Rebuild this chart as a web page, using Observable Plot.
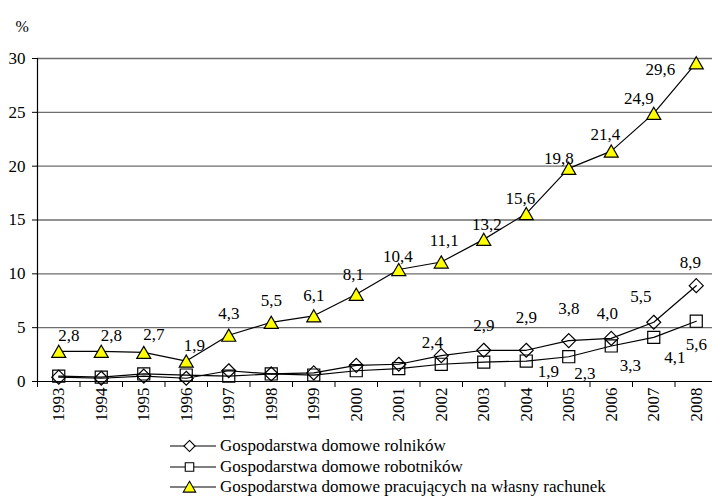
<!DOCTYPE html>
<html><head><meta charset="utf-8">
<script src="https://cdn.jsdelivr.net/npm/d3@7"></script>
<script src="https://cdn.jsdelivr.net/npm/@observablehq/plot@0.6"></script>
<style>
body{margin:0;background:#fff;font-family:"Liberation Serif","Tinos","Times New Roman","DejaVu Serif",serif;}
#wrap{position:relative;width:712px;height:496px;overflow:hidden;}
#legend{position:absolute;left:170px;top:436px;font-size:17px;line-height:20px;color:#000;}
.row{display:flex;align-items:center;height:20.4px;white-space:nowrap;}
.row svg{display:block;margin-right:2px;}
</style></head><body><div id="wrap"><div id="chart"></div><div id="legend"></div></div>
<script>
// ---- data ----
const years = [1993,1994,1995,1996,1997,1998,1999,2000,2001,2002,2003,2004,2005,2006,2007,2008];
const rolnikow   = [0.4,0.3,0.5,0.3,1.0,0.7,0.8,1.5,1.6,2.4,2.9,2.9,3.8,4.0,5.5,8.9];
const robotnikow = [0.5,0.4,0.7,0.6,0.5,0.7,0.6,1.0,1.2,1.6,1.8,1.9,2.3,3.3,4.1,5.6];
const wlasny     = [2.8,2.8,2.7,1.9,4.3,5.5,6.1,8.1,10.4,11.1,13.2,15.6,19.8,21.4,24.9,29.6];
const yTicks = [0,5,10,15,20,25,30];
const seriesNames = [
  "Gospodarstwa domowe rolników",
  "Gospodarstwa domowe robotników",
  "Gospodarstwa domowe pracujących na własny rachunek"
];
const rolnikowLabelFrom = 2002;
const robotnikowLabelFrom = 2004;
// label placement offsets (px), separate from values
const wlasnyLabelShift = [[10,-16],[10,-16],[10,-18],[8,-15],[0,-22],[0,-22],[0,-20],[-3,-20],[-1,-13],[3,-21],[3,-15],[-6,-15],[-10,-10],[-6,-17],[-15,-15],[-36,7]];
const rolnikowLabelShift = [[-9,-13],[0,-25],[0,-33],[0,-32],[-4,-25],[-13,-26],[-6,-23]];
const robotnikowLabelShift = [[22,11],[16,17],[19,20],[21,20],[0,23]];

// ---- build ----
const fmt = v => v.toFixed(1).replace(".", ",");
const mk = vals => years.map((year, i) => ({year, value: vals[i]}));
const dR = mk(rolnikow), dB = mk(robotnikow), dW = mk(wlasny);
const boundaries = years.map(y => y - 0.5);
const FONT = '"Liberation Serif","Tinos","Times New Roman","DejaVu Serif",serif';

const labelMarks = [];
dW.forEach((d, i) => labelMarks.push(Plot.text([d], {x: "year", y: "value", text: d => fmt(d.value), dx: wlasnyLabelShift[i][0], dy: wlasnyLabelShift[i][1], fontFamily: FONT})));
dR.filter(d => d.year >= rolnikowLabelFrom).forEach((d, i) => labelMarks.push(Plot.text([d], {x: "year", y: "value", text: d => fmt(d.value), dx: rolnikowLabelShift[i][0], dy: rolnikowLabelShift[i][1], fontFamily: FONT})));
dB.filter(d => d.year >= robotnikowLabelFrom).forEach((d, i) => labelMarks.push(Plot.text([d], {x: "year", y: "value", text: d => fmt(d.value), dx: robotnikowLabelShift[i][0], dy: robotnikowLabelShift[i][1], fontFamily: FONT})));

const chart = Plot.plot({
  width: 712,
  height: 430,
  marginLeft: 37,
  marginRight: 0,
  marginTop: 58,
  marginBottom: 49,
  style: {fontFamily: FONT, fontSize: "17px", color: "#000", background: "#fff", overflow: "hidden"},
  x: {type: "linear", domain: [years[0] - 0.5, years[years.length - 1] + 0.5], range: [37, 37 + 42.5 * years.length]},
  y: {domain: [yTicks[0], yTicks[yTicks.length - 1]]},
  marks: [
    Plot.ruleY(yTicks.filter(t => t > 0), {stroke: "#6e6e6e", strokeWidth: 1.3}),
    Plot.axisY({ticks: yTicks, tickSize: 5, tickPadding: 7, label: null, fontSize: 17, fontFamily: FONT, stroke: "#000"}),
    Plot.axisX({ticks: boundaries, tickSize: 6, tickFormat: () => "", label: null, stroke: "#000"}),
    Plot.axisX({ticks: years, tickSize: 0, tickPadding: 6, tickRotate: -90, tickFormat: d => String(d), label: null, fontSize: 17, fontFamily: FONT}),
    Plot.ruleY([0], {stroke: "#000", strokeWidth: 1.2}),
    Plot.ruleX([years[0] - 0.5], {stroke: "#000", strokeWidth: 1.2}),
    Plot.text(["%"], {frameAnchor: "top-left", dx: -22, dy: -38, fontSize: 16, fontFamily: FONT}),
    Plot.line(dR, {x: "year", y: "value", stroke: "#000", strokeWidth: 1.2}),
    Plot.line(dB, {x: "year", y: "value", stroke: "#000", strokeWidth: 1.2}),
    Plot.line(dW, {x: "year", y: "value", stroke: "#000", strokeWidth: 1.2}),
    Plot.dot(dR, {x: "year", y: "value", symbol: "diamond2", r: 6.3, fill: "none", stroke: "#000", strokeWidth: 1.2}),
    Plot.dot(dB, {x: "year", y: "value", symbol: "square", r: 6.8, fill: "none", stroke: "#000", strokeWidth: 1.2}),
    Plot.dot(dW, {x: "year", y: "value", symbol: "triangle", r: 5.2, dy: 2, fill: "#ffff00", stroke: "#000", strokeWidth: 1.2}),
    ...labelMarks
  ]
});
document.getElementById("chart").appendChild(chart);

// ---- legend ----
const legendSymbols = [
  {sym: d3.symbolDiamond2, size: Math.PI * 5 * 5, fill: "#fff"},
  {sym: d3.symbolSquare, size: Math.PI * 4.8 * 4.8, fill: "#fff"},
  {sym: d3.symbolTriangle, size: Math.PI * 4.6 * 4.6, fill: "#ffff00"}
];
const legend = d3.select("#legend");
seriesNames.forEach((name, i) => {
  const row = legend.append("div").attr("class", "row");
  const svg = row.append("svg").attr("width", 48).attr("height", 20);
  svg.append("line").attr("x1", 0).attr("x2", 46).attr("y1", 10).attr("y2", 10).attr("stroke", "#000").attr("stroke-width", 1.2);
  svg.append("path").attr("d", d3.symbol(legendSymbols[i].sym, legendSymbols[i].size)())
    .attr("transform", `translate(19.5,${i === 2 ? 11.5 : 10})`)
    .attr("fill", legendSymbols[i].fill)
    .attr("stroke", "#000").attr("stroke-width", 1.1);
  row.append("span").style("font-family", FONT).text(name);
});
</script></body></html>
